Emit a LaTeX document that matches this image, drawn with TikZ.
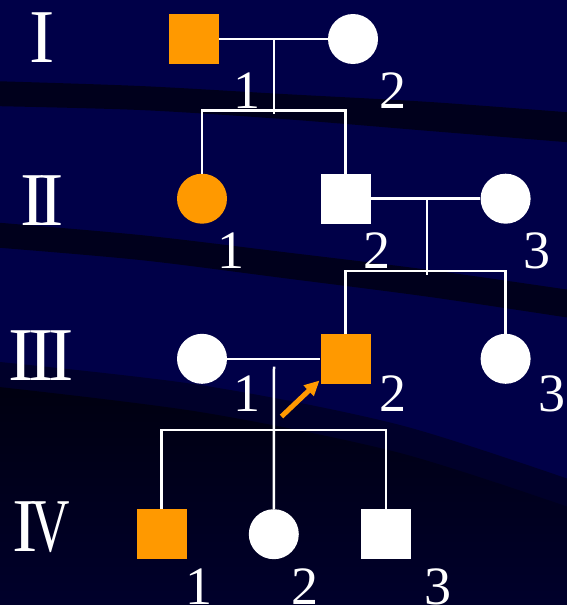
\documentclass[tikz,border=0pt]{standalone}
\usepackage{fontspec}
\usepackage{graphicx}
\setmainfont{Liberation Serif}
\usetikzlibrary{arrows.meta}
\definecolor{navy}{RGB}{0,0,72}
\definecolor{bandc}{RGB}{0,0,28}
\definecolor{deepa}{RGB}{0,0,42}
\definecolor{deepb}{RGB}{0,0,16}
\definecolor{deepc}{RGB}{0,0,44}
\definecolor{aff}{RGB}{255,153,0}
\begin{document}
\begin{tikzpicture}[x=1pt,y=-1pt,
  sq/.style={rectangle,minimum size=50pt,inner sep=0pt,fill=white},
  ci/.style={circle,minimum size=50pt,inner sep=0pt,fill=white},
  affected/.style={fill=aff},
  link/.style={draw=white,line width=2.5pt,line join=miter},
  num/.style={text=white,inner sep=0pt,anchor=base,font=\fontsize{54}{54}\selectfont},
  gen/.style={text=white,inner sep=0pt,anchor=base,font=\fontsize{76}{76}\selectfont},
  pointer/.style={draw=aff,line width=5pt,-{Triangle[length=15pt,width=14pt]}}
]
\useasboundingbox (0,0) rectangle (567,605);
\begin{scope}
\clip (0,0) rectangle (567,605);
\fill[navy] (-5,-5) rectangle (572,610);
\fill[bandc] plot[smooth] coordinates {(-10,81) (140,86) (283,94) (430,102) (577,113)}
  -- plot[smooth] coordinates {(577,143) (430,131) (283,119) (140,110) (-10,106)} -- cycle;
\fill[bandc] plot[smooth] coordinates {(-10,222) (140,235) (283,252) (430,270) (577,291)}
  -- plot[smooth] coordinates {(577,319) (430,297) (283,278) (140,260) (-10,247)} -- cycle;
\fill[deepa] plot[smooth] coordinates {(-10,361) (200,385) (400,425) (577,482)}
  -- (577,610) -- (-10,610) -- cycle;
\shade[top color=deepb,bottom color=deepc] plot[smooth] coordinates {(-10,386) (200,412) (400,453) (577,510)}
  -- (577,610) -- (-10,610) -- cycle;
\end{scope}

% generation labels
\node[gen] (g1) at (42,62.5) {I};
\node[gen] (g2) at (42,225.7) {I\kern-7pt I};
\node[gen] (g3) at (41,380) {I\kern-5pt I\kern-5pt I};
\node[gen] (g4) at (41.5,551.7) {I\kern-6pt\scalebox{0.7}[1]{V}};

% individuals
\node[sq,affected] (I1) at (194,39) {};
\node[ci] (I2) at (353,39) {};
\node[ci,affected] (II1) at (202,198.7) {};
\node[sq] (II2) at (345.6,198.7) {};
\node[ci] (II3) at (505.6,198.7) {};
\node[ci] (III1) at (202,358.8) {};
\node[sq,affected] (III2) at (345.6,358.8) {};
\node[ci] (III3) at (505.6,358.8) {};
\node[sq,affected] (IV1) at (161.6,534.2) {};
\node[ci] (IV2) at (273.8,534.2) {};
\node[sq] (IV3) at (386,534.2) {};

% numbers
\node[num] (nI1) at (247,108) {1};
\node[num] (nI2) at (393,108) {2};
\node[num] (nII1) at (231,268) {1};
\node[num] (nII2) at (377,268) {2};
\node[num] (nII3) at (537,268) {3};
\node[num] (nIII1) at (247,411) {1};
\node[num] (nIII2) at (393,411) {2};
\node[num] (nIII3) at (552,411) {3};
\node[num] (nIV1) at (199,604) {1};
\node[num] (nIV2) at (305,604) {2};
\node[num] (nIV3) at (438,604) {3};

% generation I family
\coordinate (m1) at (274,39);
\coordinate (m1b) at (274,114);
\coordinate (s1l) at (202,110.7);
\coordinate (s1r) at (345.6,110.7);
\draw[link] (I1.east) -- (I2.west);
\draw[link] (m1) -- (m1b);
\draw[link] (II1.north) -- (s1l) -- (s1r) -- (II2.north);

% generation II family
\coordinate (m2) at (427,198.7);
\coordinate (m2b) at (427,275);
\coordinate (s2l) at (345.6,271);
\coordinate (s2r) at (505.6,271);
\draw[link] (II2.east) -- (II3.west);
\draw[link] (m2) -- (m2b);
\draw[link] (III2.north) -- (s2l) -- (s2r) -- (III3.north);

% generation III family
\coordinate (m3) at (274,366.5);
\coordinate (s3l) at (161.6,430);
\coordinate (s3r) at (386,430);
\draw[link] (III1.east) -- (III2.west);
\draw[link] (m3) -- (IV2.north);
\draw[link] (IV1.north) -- (s3l) -- (s3r) -- (IV3.north);

% proband arrow
\coordinate (atail) at (281.5,416.5);
\coordinate (atip) at (319.5,380.5);
\draw[pointer] (atail) -- (atip);
\end{tikzpicture}
\end{document}
